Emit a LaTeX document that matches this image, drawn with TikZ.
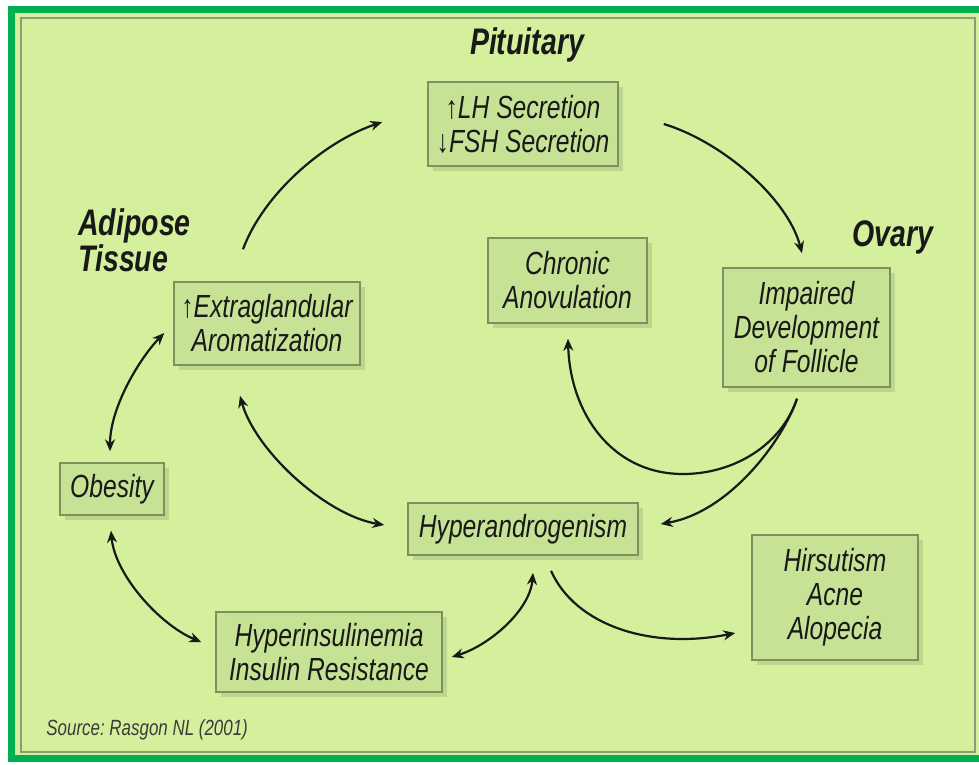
\documentclass[tikz,border=0pt]{standalone}
\usepackage{fontspec}
\setmainfont{Liberation Sans}[FakeStretch=0.77]
\frenchspacing
\usetikzlibrary{arrows.meta,shadows}
\definecolor{panel}{RGB}{212,240,156}
\definecolor{boxfill}{RGB}{198,226,148}
\definecolor{boxline}{RGB}{125,145,95}
\definecolor{shadowc}{RGB}{188,214,140}
\definecolor{frameg}{RGB}{0,175,80}
\definecolor{panelline}{RGB}{140,155,115}
\definecolor{ink}{RGB}{25,25,25}
\tikzset{
  box/.style={draw=boxline, line width=0.75pt, fill=boxfill, align=center, inner sep=0pt,
    font=\fontsize{16}{17}\selectfont\itshape, text=ink,
    drop shadow={shadow xshift=2.5pt, shadow yshift=-2.5pt, fill=shadowc, opacity=1}},
  lbl/.style={font=\fontsize{18.5}{18}\selectfont\bfseries\itshape, text=ink, inner sep=0pt},
  srcstyle/.style={font=\fontsize{11}{12}\selectfont\itshape, text=ink!85, inner sep=0pt},
  arr/.style={-{Stealth[length=6pt,width=5pt]}, line width=1.1pt, draw=ink},
  darr/.style={{Stealth[length=6pt,width=5pt]}-{Stealth[length=6pt,width=5pt]}, line width=1.1pt, draw=ink}
}
\begin{document}
\begin{tikzpicture}[x=0.5pt,y=-0.5pt]
\useasboundingbox (0,0) rectangle (979,765);
\fill[white] (0,0) rectangle (979,765);
\draw[frameg, line width=3.5pt] (11.5,9.5) rectangle (1000,758.5);
\fill[panel] (15,13) rectangle (979,755);
\draw[panelline, line width=1pt] (21,18) rectangle (975,752);

\node[box, minimum width=95pt, minimum height=42pt] (lh) at (523,124) {↑LH Secretion\\↓FSH Secretion};
\node[box, minimum width=79.5pt, minimum height=42.5pt] (ch) at (567.5,280.5) {Chronic\\Anovulation};
\node[box, minimum width=83.5pt, minimum height=59.5pt] (im) at (806.5,327.5) {Impaired\\Development\\of Follicle};
\node[box, minimum width=93pt, minimum height=41.5pt] (ex) at (267,323.5) {↑Extraglandular\\Aromatization};
\node[box, minimum width=52pt, minimum height=26pt] (ob) at (112,489) {Obesity};
\node[box, minimum width=115pt, minimum height=26pt] (ha) at (523,529) {Hyperandrogenism};
\node[box, minimum width=83pt, minimum height=62.5pt] (hs) at (835,597.5) {Hirsutism\\Acne\\Alopecia};
\node[box, minimum width=113pt, minimum height=40pt] (hi) at (329,652) {Hyperinsulinemia\\Insulin Resistance};

\node[lbl] (pit) at (527,45) {Pituitary};
\node[lbl, align=left, anchor=west] (adi) at (78,240) {Adipose\\Tissue};
\node[lbl] (ova) at (893,237) {Ovary};
\node[srcstyle, anchor=west] (src) at (46,730) {Source: Rasgon NL (2001)};

\draw[arr] ([shift={(-24,-32)}]ex.north) .. controls (263,195) and (323,142) .. ([shift={(-45,-2)}]lh.west);
\draw[arr] ([shift={(45,0)}]lh.east) .. controls (723,142) and (788,199) .. ([shift={(-4.5,-14)}]im.north);
\draw[arr] ([shift={(-9.5,11)}]im.south) .. controls (781,446) and (733,474) .. (683,474)
   .. controls (611,474) and (570,412) .. ([shift={(0.5,15)}]ch.south);
\draw[arr] ([shift={(-9.5,11)}]im.south) .. controls (783,440) and (730,512) .. ([shift={(22,-5)}]ha.east);
\draw[darr] ([shift={(-27,30)}]ex.south) .. controls (255,450) and (325,515) .. ([shift={(-23,-4)}]ha.west);
\draw[darr] ([shift={(-9,9.5)}]ex.west) .. controls (140,358) and (110,407) .. ([shift={(-2,-11)}]ob.north);
\draw[darr] ([shift={(-1,15)}]ob.south) .. controls (115,575) and (160,625) .. ([shift={(-14,-10)}]hi.west);
\draw[darr] ([shift={(9,5)}]hi.east) .. controls (490,645) and (530,610) .. ([shift={(10,17)}]ha.south);
\draw[arr] ([shift={(28,15)}]ha.south) .. controls (575,625) and (650,650) .. ([shift={(-16,35.5)}]hs.west);
\end{tikzpicture}
\end{document}
